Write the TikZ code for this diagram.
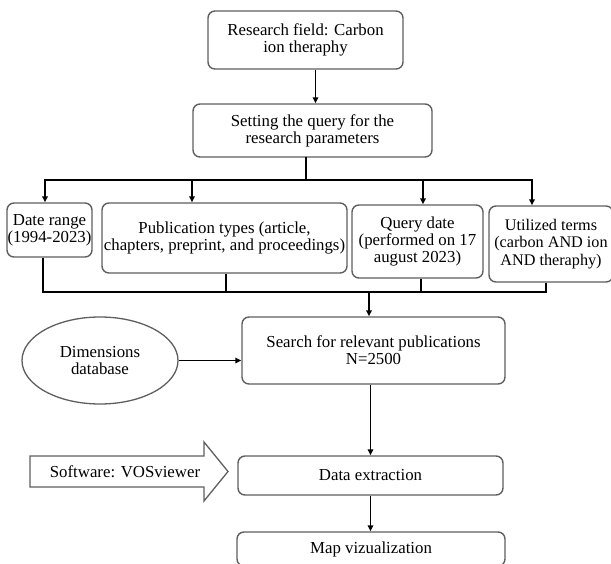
\documentclass[tikz,border=0pt]{standalone}
\usepackage{fontspec}
\setmainfont{Liberation Serif}
\definecolor{edgegray}{RGB}{95, 95, 95}
\usetikzlibrary{positioning}
\usetikzlibrary{shapes.geometric}
\usetikzlibrary{arrows.meta}

\tikzset{
  stepbox/.style={rectangle, rounded corners=7pt, draw=edgegray, line width=1.4pt, fill=white, align=center, inner xsep=0.5pt, inner ysep=1.5pt, font=\fontsize{16.8}{17.2}\selectfont},
  dbnode/.style={ellipse, draw=edgegray, line width=1.3pt, fill=white, align=center, inner sep=0pt, font=\fontsize{16.8}{17.2}\selectfont},
  flow/.style={-{Triangle[length=6pt,width=5.5pt]}, line width=1.8pt, color=black},
  busline/.style={line width=2.4pt, color=black, line cap=rect},
}

\begin{document}
\begin{tikzpicture}
\useasboundingbox (0pt, 0pt) rectangle (611pt, -563pt);
\node (field) [stepbox, minimum width=195pt, minimum height=58pt] at (305.5pt, -40pt) {Research field: Carbon\\ion theraphy};
\node (query) [stepbox, minimum width=239pt, minimum height=53pt] at (312.5pt, -130.5pt) {Setting the query for the\\research parameters};
\node (daterange) [stepbox, minimum width=83pt, minimum height=54pt] at (49.5pt, -230pt) {Date range\\(1994-2023)};
\node (pubtypes) [stepbox, minimum width=245pt, minimum height=70pt] at (224.5pt, -238pt) {Publication types (article,\\chapters, preprint, and proceedings)};
\node (qdate) [stepbox, minimum width=131pt, minimum height=73pt] at (417.5pt, -241.5pt) {Query date\\(performed on 17\\august 2023)};
\node (terms) [stepbox, minimum width=124pt, minimum height=76pt, font=\fontsize{16.2}{17.2}\selectfont] at (551pt, -244pt) {Utilized terms\\(carbon AND ion\\AND theraphy)};
\node (search) [stepbox, minimum width=263pt, minimum height=67pt] at (373.5pt, -350.5pt) {Search for relevant publications\\N=2500};
\node (dimdb) [dbnode, minimum width=156pt, minimum height=87pt] at (100pt, -360.5pt) {Dimensions\\database};
\node (extract) [stepbox, minimum width=265pt, minimum height=39pt] at (370.5pt, -475.5pt) {Data extraction};
\node (mapviz) [stepbox, minimum width=268pt, minimum height=34pt] at (371pt, -549pt) {Map vizualization};
\coordinate (topbus) at (306pt, -180pt);
\coordinate (botbus) at (369pt, -292pt);
% software arrow
\draw [edgegray, line width=1.3pt, fill=white] (30pt, -456pt) -- (204pt, -456pt) -- (204pt, -442pt) -- (228pt, -471.5pt) -- (204pt, -501pt) -- (204pt, -487pt) -- (30pt, -487pt) -- cycle;
\node (vos) [font=\fontsize{16.8}{17.2}\selectfont] at (125pt, -471.5pt) {Software: VOSviewer};
% top part
\draw [flow] ([xshift=10pt]field.south) -- ([xshift=10pt]field.south |- query.north);
\draw [busline] (query.south -| topbus) -- (topbus);
\foreach \n/\dx in {daterange/-4.5, pubtypes/-32.5, qdate/5.5, terms/-19} {
  \coordinate (\n-in) at ([xshift=\dx pt]\n.north);
  \draw [flow] (\n-in |- topbus) -- (\n-in);
}
\draw [busline] (daterange-in |- topbus) -- (terms-in |- topbus);
% lower bus
\foreach \n/\dx in {daterange/-6.5, pubtypes/1.5, qdate/3.5, terms/-5} {
  \coordinate (\n-out) at ([xshift=\dx pt]\n.south);
}
\draw [busline, line cap=butt] (daterange-out) |- (terms-out |- botbus) -- (terms-out);
\draw [busline, line cap=butt] (pubtypes-out) -- (pubtypes-out |- botbus);
\draw [busline, line cap=butt] (qdate-out) -- (qdate-out |- botbus);
\draw [flow] (botbus) -- (botbus |- search.north);
% lower part
\draw [flow] (dimdb.east) -- (dimdb.east -| search.west);
\draw [flow] (extract.north |- search.south) -- (extract.north);
\draw [flow] (extract.south) -- (extract.south |- mapviz.north);
\end{tikzpicture}
\end{document}
